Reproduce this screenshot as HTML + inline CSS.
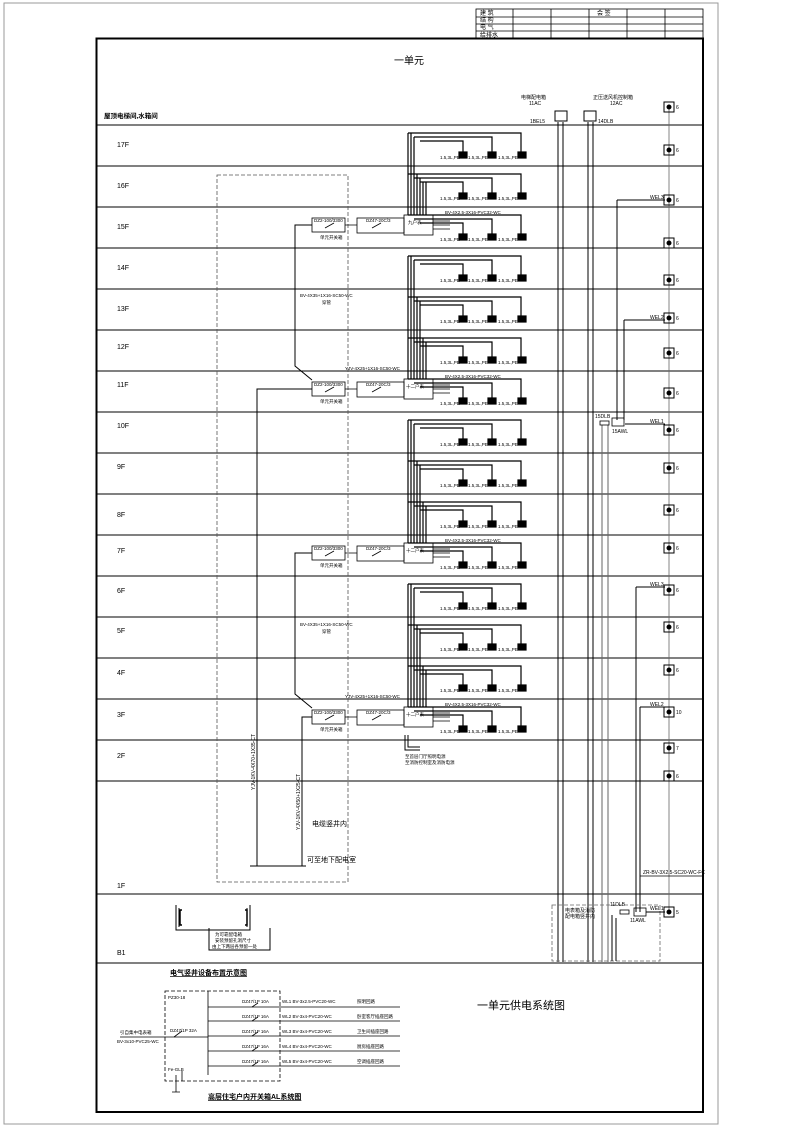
<!DOCTYPE html>
<html><head><meta charset="utf-8"><style>
html,body{margin:0;padding:0;background:#fff}
svg{display:block}
text{font-family:"Liberation Sans","Noto Sans CJK SC",sans-serif;fill:#000}
.s{font-size:4.5px}
.f{font-size:7px;font-family:"Liberation Serif","Noto Serif CJK SC",serif}
</style></head><body>
<svg width="800" height="1129" viewBox="0 0 800 1129" xmlns="http://www.w3.org/2000/svg">
<defs>
<g id="lr" fill="none" stroke="#000" stroke-width="1.2">
<path d="M408 8H521V27M414 12H492V27M420 16H463V27"/>
<rect x="518" y="27" width="8" height="6" fill="#000"/>
<rect x="488" y="27" width="8" height="6" fill="#000"/>
<rect x="459" y="27" width="8" height="6" fill="#000"/>
</g>
<g id="bx" fill="none" stroke="#000" stroke-width="0.8">
<rect x="312" y="11" width="33" height="14"/>
<path d="M325 21l9-5"/>
<rect x="357" y="11" width="47" height="15"/>
<path d="M372 21l9-5"/>
<rect x="404" y="8" width="29" height="20"/>
<path d="M345 18H357M433 14H450M433 18H450M433 22H450"/>
</g>
<g id="ic" fill="none" stroke="#000">
<rect x="-5" y="-5" width="10" height="10" stroke-width="1"/>
<circle cx="0" cy="0" r="2" fill="#000"/>
</g>
</defs>

<!-- outer frame -->
<rect x="4" y="3" width="714" height="1121" fill="none" stroke="#999" stroke-width="1"/>
<rect x="96.5" y="38.5" width="606.5" height="1073.5" fill="none" stroke="#000" stroke-width="2"/>
<!-- title block -->
<g fill="none" stroke="#000" stroke-width="0.8">
<rect x="476" y="9" width="227" height="30"/>
<path d="M476 17H703M476 24H703M476 31H703M513 9V39M551 9V39M589 9V39M627 9V39M665 9V39"/>
</g>
<text x="480" y="15" style="font-size:6px">建 筑</text>
<text x="480" y="22" style="font-size:6px">结 构</text>
<text x="480" y="29" style="font-size:6px">电 气</text>
<text x="480" y="37" style="font-size:6px">给排水</text>
<text x="597" y="15" style="font-size:6px">会 签</text>

<text x="394" y="64" style="font-size:10px">一单元</text>
<text x="104" y="118" style="font-size:6.5px;font-weight:bold">屋顶电梯间,水箱间</text>

<!-- floor lines -->
<g stroke="#000" stroke-width="1">
<path d="M97 125H703M97 166H703M97 207H703M97 248H703M97 289H703M97 330H703M97 371H703M97 412H703M97 453H703M97 494H703M97 535H703M97 576H703M97 617H703M97 658H703M97 699H703M97 740H703M97 781H703M97 894H703M97 963H703"/>
</g>
<g class="f">
<text x="117" y="147">17F</text><text x="117" y="188">16F</text><text x="117" y="229">15F</text>
<text x="117" y="270">14F</text><text x="117" y="311">13F</text><text x="117" y="349">12F</text>
<text x="117" y="387">11F</text><text x="117" y="428">10F</text><text x="117" y="469">9F</text>
<text x="117" y="517">8F</text><text x="117" y="553">7F</text><text x="117" y="593">6F</text>
<text x="117" y="633">5F</text><text x="117" y="675">4F</text><text x="117" y="717">3F</text>
<text x="117" y="758">2F</text><text x="117" y="888">1F</text><text x="117" y="955">B1</text>
</g>

<!-- dashed shaft -->
<rect x="217" y="175" width="131" height="707" fill="none" stroke="#555" stroke-width="0.8" stroke-dasharray="4,2"/>

<!-- load rows -->
<use href="#lr" y="125"/><use href="#lr" y="166"/><use href="#lr" y="207"/>
<use href="#lr" y="248"/><use href="#lr" y="289"/><use href="#lr" y="330"/><use href="#lr" y="371"/>
<use href="#lr" y="412"/><use href="#lr" y="453"/><use href="#lr" y="494"/><use href="#lr" y="535"/>
<use href="#lr" y="576"/><use href="#lr" y="617"/><use href="#lr" y="658"/><use href="#lr" y="699"/>
<g class="s">
<text y="159"><tspan x="440">1.5,3L,PE</tspan><tspan x="468">1.5,3L,PE</tspan><tspan x="498">1.5,3L,PE</tspan></text>
<text y="200"><tspan x="440">1.5,3L,PE</tspan><tspan x="468">1.5,3L,PE</tspan><tspan x="498">1.5,3L,PE</tspan></text>
<text y="241"><tspan x="440">1.5,3L,PE</tspan><tspan x="468">1.5,3L,PE</tspan><tspan x="498">1.5,3L,PE</tspan></text>
<text y="282"><tspan x="440">1.5,3L,PE</tspan><tspan x="468">1.5,3L,PE</tspan><tspan x="498">1.5,3L,PE</tspan></text>
<text y="323"><tspan x="440">1.5,3L,PE</tspan><tspan x="468">1.5,3L,PE</tspan><tspan x="498">1.5,3L,PE</tspan></text>
<text y="364"><tspan x="440">1.5,3L,PE</tspan><tspan x="468">1.5,3L,PE</tspan><tspan x="498">1.5,3L,PE</tspan></text>
<text y="405"><tspan x="440">1.5,3L,PE</tspan><tspan x="468">1.5,3L,PE</tspan><tspan x="498">1.5,3L,PE</tspan></text>
<text y="446"><tspan x="440">1.5,3L,PE</tspan><tspan x="468">1.5,3L,PE</tspan><tspan x="498">1.5,3L,PE</tspan></text>
<text y="487"><tspan x="440">1.5,3L,PE</tspan><tspan x="468">1.5,3L,PE</tspan><tspan x="498">1.5,3L,PE</tspan></text>
<text y="528"><tspan x="440">1.5,3L,PE</tspan><tspan x="468">1.5,3L,PE</tspan><tspan x="498">1.5,3L,PE</tspan></text>
<text y="569"><tspan x="440">1.5,3L,PE</tspan><tspan x="468">1.5,3L,PE</tspan><tspan x="498">1.5,3L,PE</tspan></text>
<text y="610"><tspan x="440">1.5,3L,PE</tspan><tspan x="468">1.5,3L,PE</tspan><tspan x="498">1.5,3L,PE</tspan></text>
<text y="651"><tspan x="440">1.5,3L,PE</tspan><tspan x="468">1.5,3L,PE</tspan><tspan x="498">1.5,3L,PE</tspan></text>
<text y="692"><tspan x="440">1.5,3L,PE</tspan><tspan x="468">1.5,3L,PE</tspan><tspan x="498">1.5,3L,PE</tspan></text>
<text y="733"><tspan x="440">1.5,3L,PE</tspan><tspan x="468">1.5,3L,PE</tspan><tspan x="498">1.5,3L,PE</tspan></text>
</g>

<!-- bundles -->
<g stroke="#000" stroke-width="1.2" fill="none">
<path d="M408 133V215M411 133V215M414 137V215M417 174V215M420 178V215M423 182V215M426 182V215"/>
<path d="M408 256V379M411 256V379M414 260V379M417 297V379M420 301V379M423 338V379M426 342V379"/>
<path d="M408 420V543M411 420V543M414 424V543M417 461V543M420 465V543M423 502V543M426 506V543"/>
<path d="M408 584V707M411 584V707M414 588V707M417 625V707M420 629V707M423 666V707M426 670V707"/>
</g>
<!-- boxes -->
<use href="#bx" y="207"/><use href="#bx" y="371"/><use href="#bx" y="535"/><use href="#bx" y="699"/>
<g class="s">
<text x="314" y="222">DZ2-100/3300</text><text x="320" y="239">单元开关箱</text><text x="366" y="222">DZ47-20C/3</text><text x="408" y="224">九户表</text>
<text x="314" y="386">DZ2-100/3300</text><text x="320" y="403">单元开关箱</text><text x="366" y="386">DZ47-20C/3</text><text x="406" y="388">十二户表</text>
<text x="314" y="550">DZ2-100/3300</text><text x="320" y="567">单元开关箱</text><text x="366" y="550">DZ47-20C/3</text><text x="406" y="552">十二户表</text>
<text x="314" y="714">DZ2-100/3300</text><text x="320" y="731">单元开关箱</text><text x="366" y="714">DZ47-20C/3</text><text x="406" y="716">十二户表</text>
<text x="445" y="214">BV-4X2.5-3X16-PVC32-WC</text><text x="445" y="378">BV-4X2.5-3X16-PVC32-WC</text>
<text x="445" y="542">BV-4X2.5-3X16-PVC32-WC</text><text x="445" y="706">BV-4X2.5-3X16-PVC32-WC</text>
<text x="345" y="370">YJV-4X25+1X16-SC50-WC</text><text x="345" y="698">YJV-4X25+1X16-SC50-WC</text>
<text x="300" y="297">BV-4X35+1X16-SC50-WC</text><text x="322" y="304">穿管</text>
<text x="300" y="626">BV-4X35+1X16-SC50-WC</text><text x="322" y="633">穿管</text>
<text x="405" y="758">至首层门厅照明电源</text><text x="405" y="764">至消防控制室及消防电源</text>
</g>
<!-- feeders -->
<g stroke="#000" stroke-width="1" fill="none">
<path d="M312 225H295V366L312 380"/>
<path d="M312 389H257V866"/>
<path d="M312 553H295V694L312 708"/>
<path d="M312 717H302V866"/>
<path d="M250 866H306"/>
<path d="M405 735V750H420M408 735V747H420"/>
</g>
<text transform="translate(255,790) rotate(-90)" class="s" style="font-size:5px">YJV-1KV-4X70+1X35-CT</text>
<text transform="translate(300,830) rotate(-90)" class="s" style="font-size:5px">YJV-1KV-4X50+1X25-CT</text>
<text x="312" y="826" style="font-size:7px">电缆竖井内</text>
<text x="307" y="862" style="font-size:7px">可至地下配电室</text>

<!-- right risers -->
<g stroke="#000" fill="none">
<path d="M558 122V962M563 122V962" stroke-width="1"/>
<path d="M588 122V962M593 122V962" stroke-width="1"/>
<path d="M602 425V962M608 425V962" stroke="#666" stroke-width="1"/>
<path d="M617 200V420M624 320V420M665 200H617M665 320H624M665 424H625" stroke-width="1"/>
<path d="M636 587V912M640 707V912M665 587H636M665 707H640" stroke-width="1"/>
<path d="M669 107V912" stroke="#666" stroke-width="0.8"/>
<rect x="555" y="111" width="12" height="10" stroke-width="1"/>
<rect x="584" y="111" width="12" height="10" stroke-width="1"/>
<rect x="600" y="421" width="9" height="4" stroke-width="0.8"/>
<rect x="612" y="418" width="12" height="8" stroke-width="0.8"/>
<rect x="552" y="905" width="108" height="56" stroke="#666" stroke-dasharray="4,2" stroke-width="0.8"/>
<rect x="620" y="910" width="9" height="4" stroke-width="0.8"/>
<rect x="634" y="908" width="12" height="8" stroke-width="0.8"/>
<path d="M646 912H665M612 915V961M616 918V961"/>
<path d="M640 876H703" stroke-width="0.8"/>
</g>
<g>
<use href="#ic" x="669" y="107"/><use href="#ic" x="669" y="150"/><use href="#ic" x="669" y="200"/>
<use href="#ic" x="669" y="243"/><use href="#ic" x="669" y="280"/><use href="#ic" x="669" y="318"/>
<use href="#ic" x="669" y="353"/><use href="#ic" x="669" y="393"/><use href="#ic" x="669" y="430"/>
<use href="#ic" x="669" y="468"/><use href="#ic" x="669" y="510"/><use href="#ic" x="669" y="548"/>
<use href="#ic" x="669" y="590"/><use href="#ic" x="669" y="627"/><use href="#ic" x="669" y="670"/>
<use href="#ic" x="669" y="712"/><use href="#ic" x="669" y="748"/><use href="#ic" x="669" y="776"/>
<use href="#ic" x="669" y="912"/>
</g>
<g class="s" style="font-size:5px">
<text x="676" y="109">6</text><text x="676" y="152">6</text><text x="676" y="202">6</text><text x="676" y="245">6</text>
<text x="676" y="282">6</text><text x="676" y="320">6</text><text x="676" y="355">6</text><text x="676" y="395">6</text>
<text x="676" y="432">6</text><text x="676" y="470">6</text><text x="676" y="512">6</text><text x="676" y="550">6</text>
<text x="676" y="592">6</text><text x="676" y="629">6</text><text x="676" y="672">6</text><text x="676" y="714">10</text>
<text x="676" y="750">7</text><text x="676" y="778">6</text><text x="676" y="914">5</text>
<text x="521" y="99">电梯配电箱</text><text x="529" y="105">11AC</text><text x="530" y="123">1BEL5</text>
<text x="593" y="99">正压送风机控制箱</text><text x="610" y="105">12AC</text><text x="598" y="123">14DLB</text>
<text x="650" y="199">WEL3</text><text x="650" y="319">WEL2</text><text x="650" y="423">WEL1</text>
<text x="650" y="586">WEL3</text><text x="650" y="706">WEL2</text><text x="650" y="910">WEL1</text>
<text x="595" y="418">15DLB</text><text x="612" y="433">15AWL</text>
<text x="610" y="906">11DLB</text><text x="630" y="922">11AWL</text>
<text x="643" y="874">ZR-BV-3X2.5-SC20-WC-FC</text>
<text x="565" y="912">电表箱及消防</text><text x="565" y="918">配电箱竖井内</text>
</g>

<!-- B1 -->
<g fill="none" stroke="#000" stroke-width="1">
<path d="M176 905V930H250V905M179 908V927M247 908V927"/>
<path d="M182 910H180V925H182M245 910H247V925H245" stroke-width="1.5"/>
<path d="M209 928V950H270V928"/>
</g>
<g class="s"><text x="215" y="936">为可靠配电箱</text><text x="215" y="942">安装预留孔洞尺寸</text><text x="212" y="948">由上下两层各预留一处</text></g>

<!-- bottom diagram -->
<text x="170" y="975" style="font-size:7px;font-weight:bold;text-decoration:underline">电气竖井设备布置示意图</text>
<g fill="none" stroke="#000" stroke-width="0.8">
<rect x="165" y="991" width="115" height="90" stroke-dasharray="4,2"/>
<path d="M208 991V1075M208 1007H400M208 1021H400M208 1036H400M208 1051H400M208 1066H400M120 1037H208M176 1075V1092M172 1092H180M182 1081V1071"/>
<path d="M174 1037l8-6M252 1007l6-4M252 1021l6-4M252 1036l6-4M252 1051l6-4M252 1066l6-4"/>
</g>
<g class="s">
<text x="168" y="999">PZ30-18</text><text x="170" y="1032">DZ47/1P 32A</text>
<text x="120" y="1034">引自集中电表箱</text><text x="117" y="1043">BV-3x10-PVC25-WC</text>
<text x="168" y="1071">Fe-GLB</text>
<text x="242" y="1003">DZ47/1P 10A</text><text x="282" y="1003">WL1 BV-3x2.5-PVC20-WC</text><text x="357" y="1003">照明回路</text>
<text x="242" y="1018">DZ47/1P 16A</text><text x="282" y="1018">WL2 BV-3x4-PVC20-WC</text><text x="357" y="1018">卧室客厅插座回路</text>
<text x="242" y="1033">DZ47/1P 16A</text><text x="282" y="1033">WL3 BV-3x4-PVC20-WC</text><text x="357" y="1033">卫生间插座回路</text>
<text x="242" y="1048">DZ47/1P 16A</text><text x="282" y="1048">WL4 BV-3x4-PVC20-WC</text><text x="357" y="1048">厨房插座回路</text>
<text x="242" y="1063">DZ47/1P 16A</text><text x="282" y="1063">WL5 BV-3x4-PVC20-WC</text><text x="357" y="1063">空调插座回路</text>
</g>
<text x="208" y="1099" style="font-size:7px;font-weight:bold;text-decoration:underline">高层住宅户内开关箱AL系统图</text>
<text x="477" y="1009" style="font-size:11px">一单元供电系统图</text>
</svg>
</body></html>
